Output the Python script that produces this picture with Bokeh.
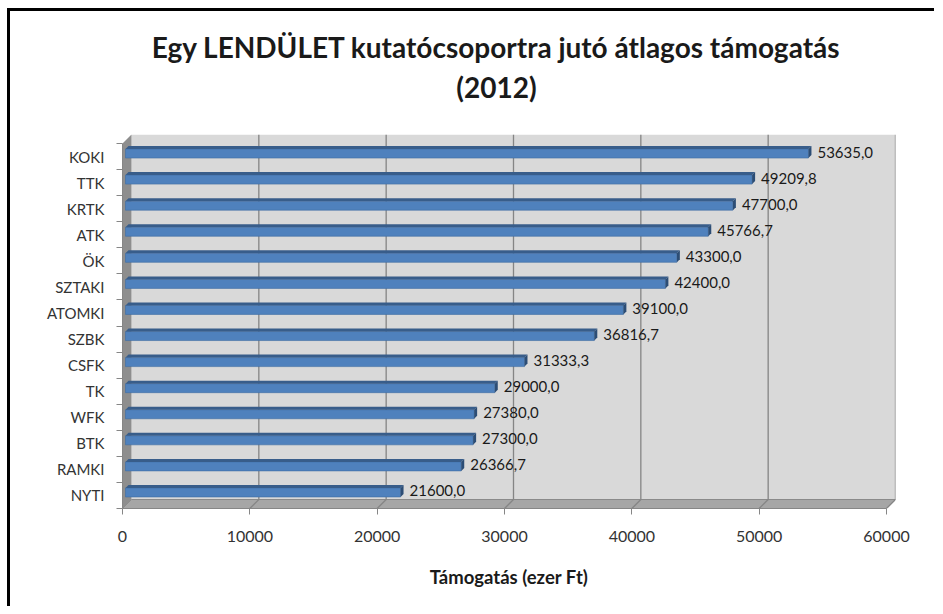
from bokeh.plotting import figure
from bokeh.models import FixedTicker, Range1d, ColumnDataSource
from bokeh.layouts import column
from bokeh.embed import file_html
from bokeh.resources import INLINE
from bokeh.core.properties import value

# ---- data ----
categories = ["KOKI", "TTK", "KRTK", "ATK", "ÖK", "SZTAKI", "ATOMKI",
              "SZBK", "CSFK", "TK", "WFK", "BTK", "RAMKI", "NYTI"]
values = [53635.0, 49209.8, 47700.0, 45766.7, 43300.0, 42400.0, 39100.0,
          36816.7, 31333.3, 29000.0, 27380.0, 27300.0, 26366.7, 21600.0]
x_ticks = [0, 10000, 20000, 30000, 40000, 50000, 60000]
title_lines = ["Egy LENDÜLET kutatócsoportra jutó átlagos támogatás", "(2012)"]
x_label = "Támogatás (ezer Ft)"

FONT = "Lato"
n = len(categories)
xmax = x_ticks[-1]

W = 924
TITLE_H = 123
PLOT_H = 595 - TITLE_H

# ---- title panel (separate svg figure on top) ----
tp = figure(width=W, height=TITLE_H, output_backend="svg", toolbar_location=None,
            x_range=Range1d(0, W), y_range=Range1d(0, TITLE_H),
            x_axis_type=None, y_axis_type=None, min_border=0,
            min_border_left=0, min_border_right=0, min_border_top=0, min_border_bottom=0)
tp.outline_line_color = None
tp.xgrid.visible = False
tp.ygrid.visible = False
tp.text(x=[447, 447], y=[88, 48], text=title_lines, text_align="center", text_baseline="middle",
        text_font=value(FONT), text_font_style="bold", text_font_size=value("28px"),
        text_color="#1a1a1a")

# ---- main chart: pixel geometry of the frame (front plane) ----
front_w = 764.0          # px for 0..60000
front_h = 374.0 - 9.0    # px for the category band
D = 9.0                  # 3D depth in px
PX = xmax / front_w
PY = n / front_h
dx, dy = D * PX, D * PY

p = figure(width=W, height=PLOT_H, output_backend="svg", toolbar_location=None, title=None,
           x_range=Range1d(0, (front_w + D) * PX), y_range=Range1d(0, (front_h + D) * PY),
           min_border_left=112, min_border_right=39, min_border_top=0, min_border_bottom=98)
p.outline_line_color = None
p.background_fill_color = "white"
p.border_fill_color = "white"
p.xgrid.visible = False
p.ygrid.visible = False

# ---- walls ----
p.quad(left=[dx], right=[xmax + dx], bottom=[dy], top=[n + dy],
       fill_color="#D9D9D9", line_color=None)
p.patch([0, xmax, xmax + dx, dx], [0, 0, dy, dy], fill_color="#A6A6A6", line_color="#8A8A8A", line_width=1)
p.patch([0, dx, dx, 0], [0, dy, n + dy, n], fill_color="#8E8E8E", line_color=None)

gx = [t + dx for t in x_ticks[1:]]
p.segment(x0=gx, y0=[dy] * len(gx), x1=gx, y1=[n + dy] * len(gx),
          line_color="#858585", line_width=1.3)
p.segment(x0=x_ticks[1:], y0=[0] * (len(x_ticks) - 1), x1=gx, y1=[dy] * len(gx),
          line_color="#858585", line_width=1.3)

# ---- bars (3D boxes) ----
b0 = 3.0   # px offset from front
bh = 4.5   # half height px
bd = 3.0   # bar depth px
yc = [n - 1 - i + 0.5 for i in range(n)]
left = [b0 * PX] * n
right = [v + b0 * PX for v in values]
bot = [y - bh * PY + b0 * PY for y in yc]
top = [y + bh * PY + b0 * PY for y in yc]

p.quad(left=left, right=right, bottom=bot, top=top,
       fill_color="#4F81BD", line_color="#3E6BA3", line_width=0.6)
top_xs = [[l, r, r + bd * PX, l + bd * PX] for l, r in zip(left, right)]
top_ys = [[t, t, t + bd * PY, t + bd * PY] for t in top]
p.patches(top_xs, top_ys, fill_color="#385D8A", line_color=None)
end_xs = [[r, r + bd * PX, r + bd * PX, r] for r in right]
end_ys = [[b, b + bd * PY, t + bd * PY, t] for b, t in zip(bot, top)]
p.patches(end_xs, end_ys, fill_color="#2C4D75", line_color=None)

labels = [f"{v:.1f}".replace(".", ",") for v in values]
src = ColumnDataSource(dict(x=[r + (bd + 6) * PX for r in right],
                            y=[(b + t) / 2 + 1.5 * PY for b, t in zip(bot, top)],
                            t=labels))
p.text(x="x", y="y", text="t", source=src, text_font=value(FONT),
       text_font_size=value("15px"), text_baseline="middle", text_align="left",
       text_color="#1a1a1a")

# ---- axes ----
xa = p.xaxis[0]
xa.ticker = FixedTicker(ticks=x_ticks)
xa.bounds = (0, xmax)
xa.axis_line_color = "#868686"
xa.major_tick_line_color = "#868686"
xa.major_tick_out = 6
xa.major_tick_in = 0
xa.minor_tick_line_color = None
xa.major_label_standoff = 16
xa.major_label_text_font = FONT
xa.major_label_text_font_size = "16px"
xa.major_label_text_color = "#333333"
xa.axis_label = x_label
xa.axis_label_text_font = FONT
xa.axis_label_text_font_style = "bold"
xa.axis_label_text_font_size = "18.5px"
xa.axis_label_text_color = "#1a1a1a"
xa.axis_label_standoff = 21

ya = p.yaxis[0]
centers = [i + 0.5 for i in range(n)]
ya.ticker = FixedTicker(ticks=centers, minor_ticks=list(range(n + 1)))
ya.major_label_overrides = {n - 1 - i + 0.5: c for i, c in enumerate(categories)}
ya.bounds = (0, n)
ya.axis_line_color = "#868686"
ya.major_tick_out = 0
ya.major_tick_in = 0
ya.minor_tick_line_color = "#868686"
ya.minor_tick_out = 6
ya.minor_tick_in = 0
ya.major_label_standoff = 12
ya.major_label_text_font = FONT
ya.major_label_text_font_size = "15px"
ya.major_label_text_color = "#333333"

layout = column(tp, p, spacing=0,
                styles={"border-left": "3px solid black", "border-top": "3px solid black",
                        "margin-left": "7px", "margin-top": "8px"})

open("out.html", "w").write(file_html(layout, INLINE))
